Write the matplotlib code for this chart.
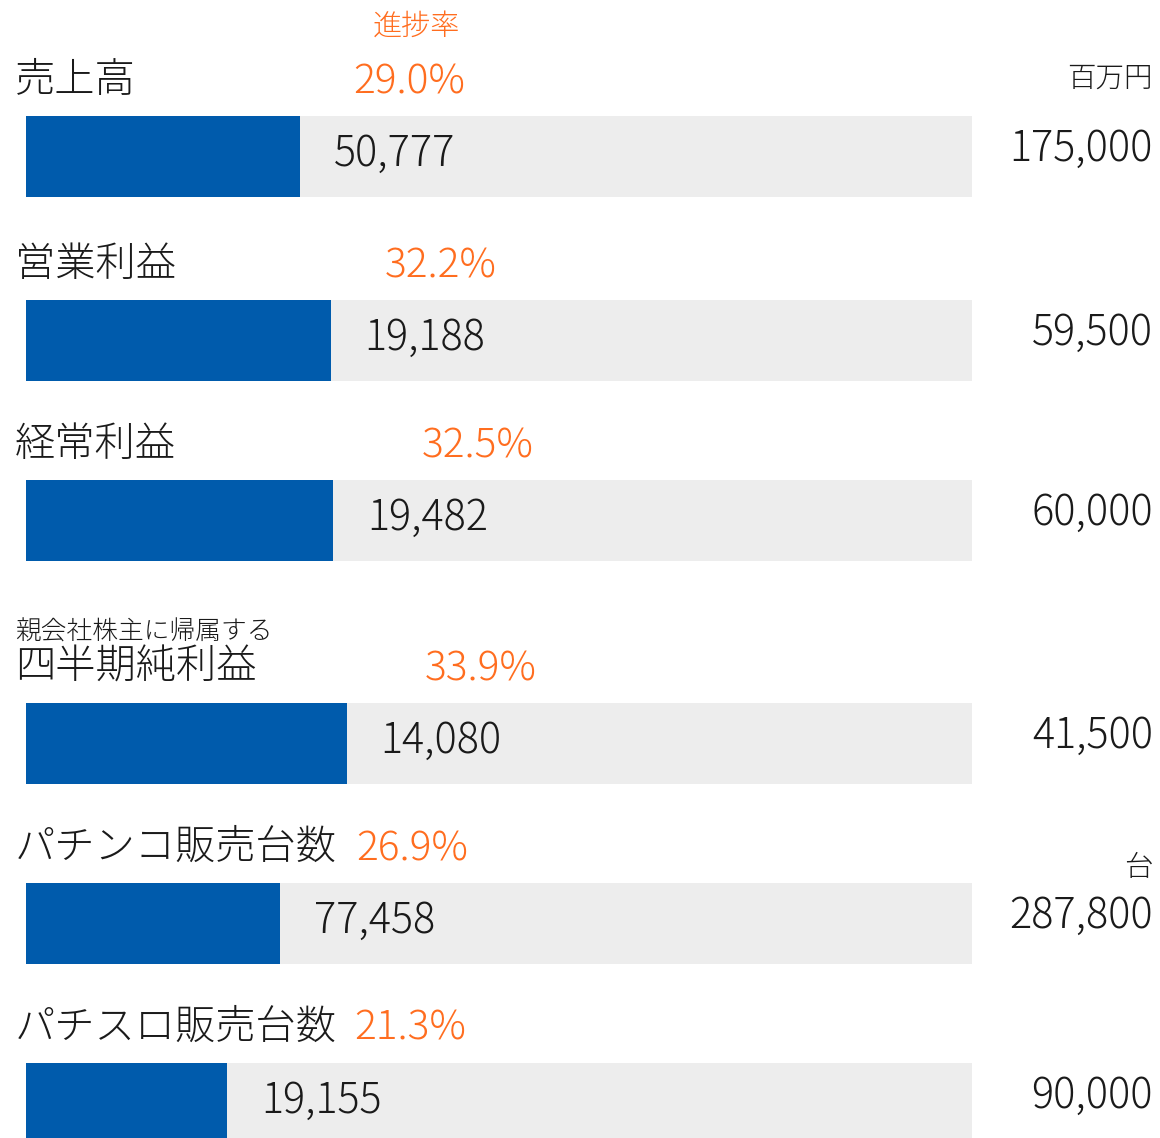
import matplotlib.pyplot as plt

plt.rcParams['font.family'] = ['Noto Sans CJK JP', 'DejaVu Sans']
plt.rcParams['font.weight'] = 'light'

# data
items = ["売上高", "営業利益", "経常利益", "四半期純利益", "パチンコ販売台数", "パチスロ販売台数"]
actual = [50777, 19188, 19482, 14080, 77458, 19155]
target = [175000, 59500, 60000, 41500, 287800, 90000]
rate = [29.0, 32.2, 32.5, 33.9, 26.9, 21.3]
units = {0: "百万円", 4: "台"}
sub_label = {3: "親会社株主に帰属する"}

# layout (pixels)
W, H = 1160, 1138
row_top = [116, 300, 480, 703, 883, 1063]
bar_h = 81
track_left, track_w = 26, 946
pct_x = [353, 385, 422, 425, 356, 354]

BLUE = '#005bac'
GREY = '#ededed'
ORANGE = '#ff6d1f'
INK = '#1a1a1a'

fig = plt.figure(figsize=(W / 100, H / 100), dpi=100)
fig.patch.set_facecolor('white')

# bar axes: x in percent of target
axb = fig.add_axes([track_left / W, 0, track_w / W, 1])
axb.set_xlim(0, 100)
axb.set_ylim(H, 0)
axb.axis('off')

yc = [t + bar_h / 2 for t in row_top]
axb.barh(yc, [100] * len(items), height=bar_h, color=GREY, linewidth=0)
axb.barh(yc, rate, height=bar_h, color=BLUE, linewidth=0)

fs_lab = 29
fs_num = 29.8
fs_pct = 29.3
for i in range(len(items)):
    axb.annotate(f"{actual[i]:,}", (rate[i], yc[i] - 2), xytext=(34 * 0.72, 0),
                 textcoords='offset points', ha='left', va='center',
                 fontsize=fs_num, color=INK)

# text overlay in pixels
axt = fig.add_axes([0, 0, 1, 1])
axt.set_xlim(0, W)
axt.set_ylim(H, 0)
axt.axis('off')

for i, name in enumerate(items):
    ly = row_top[i] - 35
    axt.text(15, ly, name, ha='left', va='center', fontsize=fs_lab, color=INK)
    axt.text(pct_x[i], ly + 1, f"{rate[i]:.1f}%", ha='left', va='center',
             fontsize=fs_pct, color=ORANGE)
    axt.text(1153, yc[i] - 7, f"{target[i]:,}", ha='right', va='center',
             fontsize=fs_num, color=INK)
    if i in sub_label:
        axt.text(15, ly - 36, sub_label[i], ha='left', va='center',
                 fontsize=18.5, color=INK)
    if i in units:
        uy = row_top[i] - 38 if i == 0 else row_top[i] - 15
        axt.text(1153, uy, units[i], ha='right', va='center',
                 fontsize=20.5, color=INK)

axt.text(416, 26, "進捗率", ha='center', va='center', fontsize=21, color=ORANGE)

fig.savefig('out.png', dpi=100, facecolor='white')
